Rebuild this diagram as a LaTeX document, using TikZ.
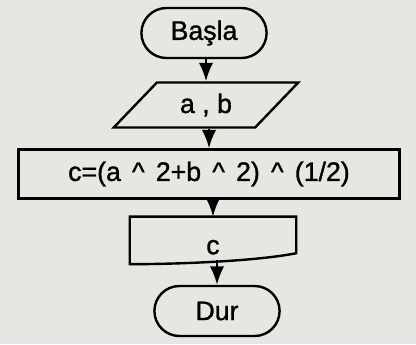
\documentclass[tikz,border=0pt]{standalone}
\usepackage{fontspec}
\setmainfont{Liberation Sans}[FakeBold=1.2]
\usetikzlibrary{arrows.meta,calc,shapes.geometric,shapes.misc}
\definecolor{paper}{RGB}{230,230,227}
\newcommand\pw{\hspace{.42em}\textasciicircum\hspace{.42em}}

\begin{document}
\begin{tikzpicture}[
  x=1mm, y=1mm, font=\fontsize{19}{22}\selectfont,
  lw/.style   ={line width=0.6mm},
  term/.style ={draw,lw,rounded rectangle,minimum width=32mm,minimum height=12.5mm,inner sep=1pt},
  io/.style   ={draw,lw,trapezium,trapezium left angle=50,trapezium right angle=130,
                trapezium stretches=true,minimum width=46.5mm,minimum height=11.25mm},
  proc/.style ={draw,lw,rectangle,minimum width=95.25mm,minimum height=12.25mm},
  doc/.style  ={rectangle,minimum width=41.5mm,minimum height=11.75mm,text height=7mm},
  ln/.style   ={draw,lw,-{Latex[length=4.6mm,width=3.6mm]}},
]

% ------------------------------------------------------------ paper
\fill[paper] (0,0) rectangle (104,-86);

% ------------------------------------------------------------ flow, top to bottom
\node[term] (start) at (51, -8.25)     {Başla};
\node[io]   (ab)    at (51.5, -26.25)  {a , b};
\node[proc] (calc)  at (52.25, -43.5)  {c=(a\pw2+b\pw2)\pw(1/2)};
\node[doc]  (out)   at (53.25, -60.1)  {c};
\node[term] (stop)  at (54.25, -77.75) {Dur};

% output box: flat top, wavy bottom
\draw[lw] (out.north west) -- (out.north east) -- ($(out.south east)+(0,2.75)$)
  .. controls +(-10,-2) and +(12,0) .. (out.south west) -- cycle;

% ------------------------------------------------------------ arrows
\draw[ln] (start.south -| ab.north) -- (ab.north);
\draw[ln] (ab.south -| calc.north) -- (calc.north);
\draw[ln] (calc.south -| out.north) -- (out.north);
\draw[ln] ($(stop.north |- out.south)+(0,1.1)$) -- (stop.north);

\end{tikzpicture}
\end{document}
